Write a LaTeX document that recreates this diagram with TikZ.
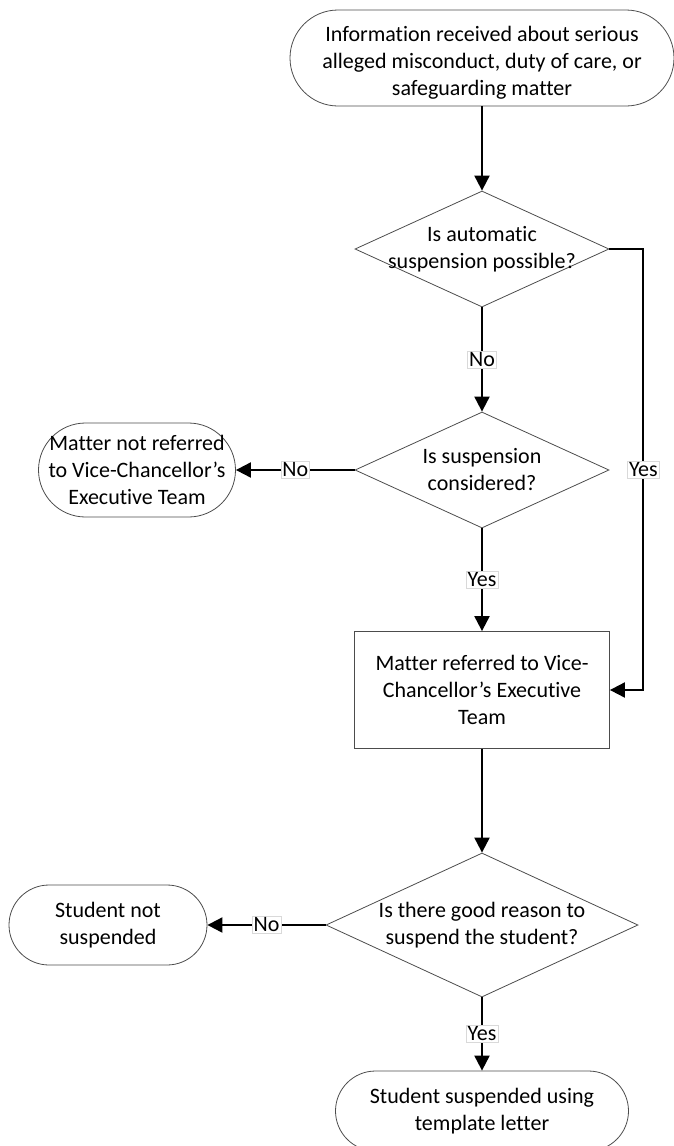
\documentclass[tikz,border=0pt]{standalone}
\usepackage{fontspec}
\setmainfont{Carlito}[Ligatures={TeX,NoCommon}]
\usetikzlibrary{shapes.geometric,arrows.meta}

\tikzset{
	txt/.style={font=\fontsize{22}{27}\selectfont},
	term/.style={txt, draw=black!70, line width=0.8pt, inner sep=0pt, align=flush center},
	decision/.style={diamond, draw=black!70, line width=0.8pt, inner sep=0pt, minimum width=254pt, minimum height=116pt},
	qtext/.style={txt, align=flush center, inner sep=0pt},
	process/.style={txt, rectangle, draw=black!70, line width=0.8pt, inner sep=0pt, align=flush center, minimum width=255pt, minimum height=117pt, text width=240pt},
	conn/.style={line width=2pt, -{Triangle[width=15pt,length=15pt]}},
	lbl/.style={txt, fill=white, draw=black!15, line width=0.6pt, inner sep=1.5pt}
}

\begin{document}
\begin{tikzpicture}[x=1pt, y=-1pt]
		%%%%% START %%%%%
		\useasboundingbox (0,0) rectangle (673,1146);
		
		\node[term, minimum width=384pt, minimum height=96pt, rounded corners=48pt, text width=370pt] (start) at (482,58) {\rule{0pt}{25pt}Information received about serious\\alleged misconduct, duty of care, or\\safeguarding matter};
		
		\node[decision] (auto) at (482,249) {};
		\node[qtext] (autotext) at (auto) {Is automatic\\suspension possible?};
		
		\node[decision] (consider) at (482,470) {};
		\node[qtext] (considertext) at (consider) {Is suspension\\considered?};
		\node[term, minimum width=197pt, minimum height=94pt, rounded corners=47pt, text width=190pt] (notref) at (137,470) {Matter not referred\\to Vice-Chancellor's\\Executive Team};
		
		\node[process] (vcet) at (482,690) {Matter referred to Vice-\\Chancellor's Executive\\Team};
		
		\node[decision, minimum width=312pt, minimum height=144pt] (reason) at (482,925) {};
		\node[qtext] (reasontext) at (reason) {Is there good reason to\\suspend the student?};
		\node[term, minimum width=198pt, minimum height=80pt, rounded corners=40pt, text width=190pt] (notsus) at (108,925) {Student not\\suspended};
		\node[term, minimum width=293pt, minimum height=80pt, rounded corners=40pt, text width=280pt] (sus) at (482,1111) {Student suspended using\\template letter};
		
		\draw[conn] (start) -- (auto);
		\draw[conn] (auto) -- node[lbl] (no1) {No} (consider);
		\draw[conn] (consider) -- node[lbl] (no2) {No} (notref);
		\draw[conn] (consider) -- node[lbl] (yes2) {Yes} (vcet);
		\draw[conn] (auto.east) -- ++(34,0) |- node[lbl, pos=0.25] (yes1) {Yes} (vcet.east);
		\draw[conn] (vcet) -- (reason);
		\draw[conn] (reason) -- node[lbl] (no3) {No} (notsus);
		\draw[conn] (reason) -- node[lbl] (yes3) {Yes} (sus);
		
		%%%%% END %%%%%
\end{tikzpicture}
\end{document}
